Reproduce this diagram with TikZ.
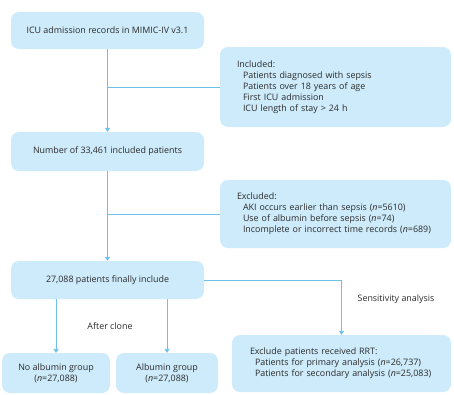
\documentclass[tikz,border=0pt]{standalone}
\usepackage{fontspec}
\setmainfont{Open Sans}
\usetikzlibrary{arrows.meta}
\definecolor{boxfill}{HTML}{CDEBFA}
\definecolor{linkcol}{HTML}{6CC0EA}
\definecolor{txt}{HTML}{2B2B2B}
\begin{document}
\begin{tikzpicture}[x=1pt,y=-1pt,
  font=\fontsize{8.9}{11}\selectfont, text=txt,
  box/.style={fill=boxfill, rounded corners=8pt, inner sep=0pt},
  link/.style={draw=linkcol, line width=0.9pt},
  arr/.style={link, -{Triangle[width=5pt,length=4pt]}},
  lbl/.style={inner sep=0pt}]
\useasboundingbox (0,0) rectangle (454,394);

% main column
\node[box, minimum width=193pt, minimum height=37pt] (b1) at (107.5,30.5)
  {ICU admission records in MIMIC-IV v3.1};
\node[box, minimum width=193pt, minimum height=39pt] (b2) at (107.5,151.5)
  {Number of 33,461 included patients};
\node[box, minimum width=193pt, minimum height=38pt] (b3) at (107.5,280)
  {27,088 patients finally include};

% side boxes
\node[box, minimum width=231pt, minimum height=80pt, text width=231pt,
      align=left] (inc) at (335.5,87)
  {\hspace*{17pt}Included:\\
   \hspace*{23pt}Patients diagnosed with sepsis\\
   \hspace*{23pt}Patients over 18 years of age\\
   \hspace*{23pt}First ICU admission\\
   \hspace*{23pt}ICU length of stay > 24 h};
\node[box, minimum width=231pt, minimum height=68pt, text width=231pt,
      align=left] (exc) at (335.5,214)
  {\hspace*{17pt}Excluded:\\
   \hspace*{23pt}AKI occurs earlier than sepsis (\textit{n}=5610)\\
   \hspace*{23pt}Use of albumin before sepsis (\textit{n}=74)\\
   \hspace*{23pt}Incomplete or incorrect time records (\textit{n}=689)};

% bottom row
\node[box, minimum width=108pt, minimum height=40pt, align=center] (noalb) at (56,373)
  {No albumin group\\(\textit{n}=27,088)};
\node[box, minimum width=102pt, minimum height=40pt, align=center] (alb) at (167,373)
  {Albumin group\\(\textit{n}=27,088)};
\node[box, minimum width=219pt, minimum height=57pt, text width=219pt,
      align=left] (sens) at (341.5,363.5)
  {\hspace*{18pt}Exclude patients received RRT:\\
   \hspace*{23pt}Patients for primary analysis (\textit{n}=26,737)\\
   \hspace*{23pt}Patients for secondary analysis (\textit{n}=25,083)};

% connectors
\draw[arr] (b1.south) -- (b2.north);
\draw[link] (b1.south |- inc.west) -- (inc.west);
\draw[arr] (b2.south) -- (b3.north);
\draw[link] (b2.south |- exc.west) -- (exc.west);
\draw[arr] (b3.south -| noalb.north) -- (noalb.north);
\draw[arr] (b3.south -| alb.north) -- (alb.north);
\draw[arr] (b3.east) -| (sens.north);

% labels
\node[lbl] (clone) at (110,326) {After clone};
\node[lbl] (senslbl) at (396,299) {Sensitivity analysis};
\end{tikzpicture}
\end{document}
